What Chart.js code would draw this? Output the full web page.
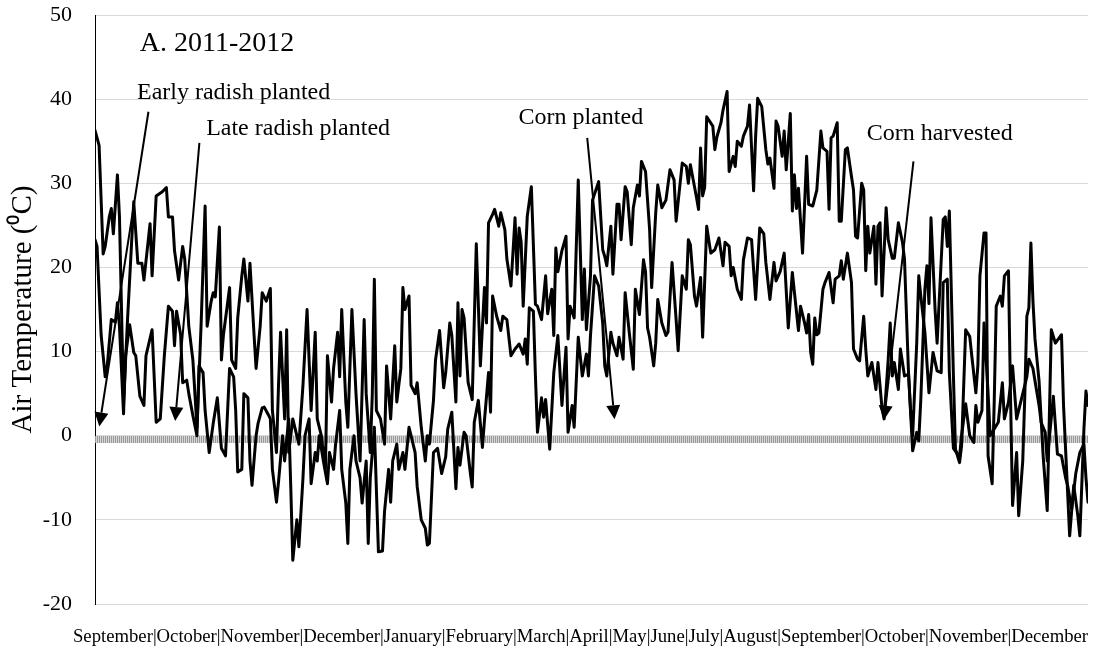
<!DOCTYPE html>
<html>
<head>
<meta charset="utf-8">
<title>Air Temperature 2011-2012</title>
<script src="https://cdn.jsdelivr.net/npm/chart.js@4.4.0/dist/chart.umd.min.js"></script>
<style>
    html, body { margin: 0; padding: 0; background: #ffffff; }
    #wrap { width: 1098px; height: 649px; }
</style>
</head>
<body>
<div id="wrap"><canvas id="tempChart" width="1098" height="649"></canvas></div>
<script>
// day 0 = 1 September 2011, day 487 = 31 December 2012
const monthLabels = [
    "September", "October", "November", "December", "January", "February",
    "March", "April", "May", "June", "July", "August",
    "September", "October", "November", "December"
];

const maxDays = [0,2,4,5,7,8,9,11,12,14,16,19,21,23,24,27,28,30,33,35,36,38,39,41,43,44,46,48,50,52,54,55,57,58,59,61,62,63,66,67,69,70,72,73,75,76,78,79,81,82,84,86,
    87,89,90,91,93,94,95,97,98,100,102,104,106,108,109,111,113,114,116,117,119,120,121,123,124,126,128,130,132,133,135,136,137,138,140,142,143,145,147,148,150,151,152,154,155,157,158,160,162,163,164,166,167,169,
    171,172,174,175,177,178,179,180,181,183,185,187,189,191,192,193,195,196,198,199,201,202,204,206,207,208,209,210,212,214,216,217,219,221,222,224,225,226,227,229,231,232,233,235,237,239,240,241,243,244,247,249,250,251,253,254,256,257,258,260,261,263,264,266,267,268,270,272,273,275,276,278,280,282,284,285,288,290,291,292,295,296,297,298,299,
    300,303,304,305,307,308,310,311,313,314,315,317,318,320,321,323,324,325,327,329,330,331,333,334,335,337,338,339,341,342,343,344,345,347,349,350,352,354,356,357,359,360,361,362,364,365,366,368,369,371,372,373,374,376,377,378,379,380,382,383,384,385,386,388,389,391,392,394,396,397,399,
    401,403,404,405,407,408,409,410,412,413,416,417,418,419,421,422,424,425,427,429,430,432,433,434,436,437,438,440,441,442,444,445,446,448,449,450,452,453,455,456,457,458,459,460,461,463,465,467,469,471,474,475,478,480,482,483,485,486,487];
const maxTemps = [36.3,34.5,21.6,22.5,26,27,24,31,26,4,14,27.8,20.5,20.5,18.5,25.2,19,28.5,29,29.5,26,26,22,18.5,22.5,21,13,9,1,13,27.3,13,16,17,16.5,24.8,9,12,17.6,9,8,14,19,21,16,20.5,12,8,13,17,16,17.5,
    3,-2,6,12.3,2,12.6,-2,2,1,-1,6,15,3,12.3,2,0,-4,9.5,4,8,12.3,7,15,4,1,15,5,-3,13.8,5,-2,5,18.6,3,2,-1,8.3,2,10.7,4,8,17.6,15,16.6,6,5,6.3,1,-3,0,-1,4.2,9,12.5,
    5.7,7.5,13.4,11.9,4,15.8,7.1,15,14,6.3,4.3,22.8,8.3,17.6,13.4,25.3,26.3,26.9,24.9,26.5,24.5,21,17.8,25.9,19.2,24.7,23,15.4,26.1,29.6,15.6,15.4,13.8,19,14.5,17.4,11.9,22.3,19.5,22,23.7,11.5,15.4,14,30.4,13.8,19.8,12.6,19,28,30.2,22.1,21.3,20.2,24.9,19.2,27.5,27.5,23.3,29.6,29,22.7,27.1,29.8,28.5,32.6,31.4,24.5,17.6,26.5,29.8,27.1,28,31.6,30.4,25.5,32.4,32,30,32.2,28.3,26.9,34.2,28.5,29.5,
    37.9,36.8,34,35.5,37.2,38.7,40.9,31.4,33.2,32,35,34.4,35.6,36.8,39.3,29.1,35.6,40.1,39.1,34,32.3,33,29.4,37.4,36.8,33.2,36.2,31.6,38.3,26.7,31,27,29.4,21.7,33.2,27.5,27.3,29.2,36.2,34.2,33.8,26.9,35.4,35.6,37.2,25.5,25.5,34,34.2,30.8,29.2,23.7,23.5,30,29.2,19.6,24.9,21.7,24.9,18,24.9,25.3,16.6,27.1,23.3,21.1,21.1,25.3,23,21,7.3,
    -1.8,0.4,-0.6,4.3,17.4,20.2,15.7,25.9,15,11,25.7,26,22.5,26.7,7.1,-1.6,-3.2,-1.2,12.6,11.8,9.5,5.1,8.4,19,24.1,24.1,-2.4,-5.7,4,15.4,16.6,15.4,19,19.6,4.7,-8.3,-2,-9.5,-3,4.7,14.2,15.2,22.9,16,11.5,6.5,-2.4,-8.9,12.6,11,12,3.6,-11.9,-5.9,-9.5,-11.9,0.8,5.3,3.6];

const minDays = [0,1,3,5,6,8,10,11,12,14,15,17,19,20,22,24,25,28,30,32,34,36,38,39,40,42,43,45,46,48,50,51,53,54,56,58,60,62,64,66,68,69,70,72,73,75,76,77,79,80,82,83,85,
    86,87,89,90,92,93,95,96,97,99,100,102,103,105,106,108,109,110,112,114,115,117,118,120,121,123,124,125,127,128,130,131,133,134,135,137,139,141,142,144,145,146,148,149,151,152,154,155,157,158,160,162,163,164,
    166,168,170,172,173,175,177,178,179,181,182,184,185,186,188,190,191,193,194,195,197,199,200,202,204,206,208,210,211,212,213,215,216,217,219,220,221,223,225,227,229,231,232,234,235,237,239,241,242,243,245,247,249,250,251,253,254,256,257,259,260,262,264,265,267,269,270,271,272,274,275,276,278,280,281,283,285,286,288,290,291,292,294,295,297,298,
    300,302,304,306,308,309,311,312,313,315,317,318,320,322,324,326,328,329,331,333,334,336,338,340,342,345,346,348,349,350,351,352,353,354,355,357,358,360,362,363,365,366,367,369,371,372,374,375,377,378,379,381,383,384,386,387,389,390,391,392,394,395,397,399,
    400,401,403,404,405,407,409,411,413,415,416,418,419,421,424,425,427,429,431,432,433,435,436,438,439,441,443,445,446,448,450,452,453,455,457,458,460,463,464,466,467,470,472,474,476,477,479,481,483,485,486,487];
const minTemps = [23.3,22.5,12,7,8.3,13.8,13.5,15.8,13,2.6,9.5,13.2,9.9,9.5,4.7,3.6,9.5,12.6,1.6,2,9.5,15.4,14.8,10.7,14.8,12,6.3,6.6,5,2.4,0,8.3,7.5,3,-2,1.5,4.5,-1.5,-2.4,8,7,3,-4.3,-4,5,4.5,-3,-5.9,0,1.5,3.3,3.4,2.5,
    2,-4,-7.9,-5.5,0,-3,2,-6,-14.8,-10,-13.2,-5,0,2,-5.7,-2,-3,0,-3,-5.7,-2,-4,-1,3,-4,-8,-12.8,-4,0,-3,-5,-8,-3,-12.8,-5,1,-13.8,-13.7,-9,-4,-7.9,-3,-1,-4,-2,-4,1,0,-2,-6,-10,-11,-13,-12.8,
    -2,-1.5,-4.5,-2.5,0.8,2.8,-6.3,-1.4,-3.5,0.4,0,-4.3,-6.1,1.6,4.2,-1.4,1.8,7.5,2.8,16.6,14.2,12.5,14.2,13.8,9.5,10.3,10.9,9.7,11.5,8.5,15.2,14.8,7.1,0.4,4.5,2.2,4.3,-1.6,7.5,11.9,3.6,10.5,0.4,3.6,1,11.7,7.1,9.7,7.1,11.9,19,17.8,13.4,8.3,7.1,12.3,11,9.5,11.7,9.1,17,12.3,7.9,17.4,14.4,20.9,19.5,12.8,11.7,8.3,11,16.2,13.4,11.9,12.3,20.6,13.8,10.1,19,17.4,23.3,22.7,16.6,15.4,18.8,11.7,
    24.9,21.7,22.1,23.5,20.2,23,22.5,19,20,17.4,16.2,20.9,23.5,23.3,16.2,24.7,24,20.6,16.2,20.6,18.4,19.5,21.7,12.8,19.4,12.5,15.4,13.4,12.2,14.4,9.9,8.5,14,12,12.2,17.4,18.2,19.4,15.8,18.6,19,20.8,18.6,21.7,18.2,10.3,9.1,8.9,14.2,10.3,7.1,8.7,5.5,8.7,3.2,2,9,13.4,7.1,8.7,5.5,10.3,7.1,7.3,
    3,0,11,19,16.6,12.3,5.1,9.9,7.7,7.5,18.2,18.6,7.5,-1.5,-2.5,0,3.8,0,-0.8,3.6,1.6,3,13.4,5.1,0,0.8,1.6,6.3,2,4,8.3,2,3,5,7,9.1,8,3.6,1.6,0.4,-3,4.7,-2.2,-2.4,-5,-5.9,-8.7,-4.5,-2,-1,-5,-7.9];

// hatched band drawn just under the zero gridline
const zeroBand = -0.45;
const bandDays = [0, 487];

const noteTexts = ["A. 2011-2012", "Early radish planted", "Late radish planted", "Corn planted", "Corn harvested"];
const noteDays = [22, 20.6, 54.5, 207.7, 378.5];
const noteTemps = [45.7, 40, 35.7, 37.1, 35.1];

const arrowFromDays = [26.2, 51.2, 241.4, 401.4];
const arrowFromTemps = [38.5, 34.8, 35.4, 32.6];
const arrowToDays = [2.1, 39.3, 254.8, 387];
const arrowToTemps = [1.1, 1.75, 1.95, 1.9];

const serif = '"Liberation Serif", "Times New Roman", serif';

function toPoints(days, temps) {
    return days.map((d, i) => ({ x: d, y: temps[i] }));
}

const notesPlugin = {
    id: 'plantingNotes',
    afterDatasetsDraw(chart) {
        const { ctx, scales: { x, y } } = chart;
        ctx.save();
        ctx.fillStyle = '#000';
        ctx.strokeStyle = '#000';
        ctx.textAlign = 'left';
        ctx.textBaseline = 'alphabetic';

        noteTexts.forEach((text, i) => {
            ctx.font = (i === 0 ? '28px ' : '24px ') + serif;
            ctx.fillText(text, x.getPixelForValue(noteDays[i]), y.getPixelForValue(noteTemps[i]));
        });

        // arrows with a filled triangle head
        arrowFromDays.forEach((day, i) => {
            const x1 = x.getPixelForValue(day);
            const y1 = y.getPixelForValue(arrowFromTemps[i]);
            const x2 = x.getPixelForValue(arrowToDays[i]);
            const y2 = y.getPixelForValue(arrowToTemps[i]);
            const ang = Math.atan2(y2 - y1, x2 - x1);
            const headLen = 14, headHalf = 7;
            const bx = x2 - headLen * Math.cos(ang);
            const by = y2 - headLen * Math.sin(ang);

            ctx.lineWidth = 2;
            ctx.beginPath();
            ctx.moveTo(x1, y1);
            ctx.lineTo(bx, by);
            ctx.stroke();

            ctx.beginPath();
            ctx.moveTo(x2, y2);
            ctx.lineTo(bx - headHalf * Math.sin(ang), by + headHalf * Math.cos(ang));
            ctx.lineTo(bx + headHalf * Math.sin(ang), by - headHalf * Math.cos(ang));
            ctx.closePath();
            ctx.fill();
        });

        // month strip under the plot, a bit left of the plot centre like the original
        ctx.font = '18.7px ' + serif;
        ctx.textAlign = 'center';
        ctx.textBaseline = 'middle';
        ctx.fillText(monthLabels.join('|'), (x.left + x.right) / 2 - 11, 637);
        ctx.restore();
    }
};

const ctx = document.getElementById('tempChart').getContext('2d');

new Chart(ctx, {
    type: 'line',
    data: {
        datasets: [
            {
                label: 'Daily maximum',
                data: toPoints(maxDays, maxTemps),
                borderColor: '#000000',
                borderWidth: 3,
                borderJoinStyle: 'round',
                borderCapStyle: 'round',
                pointRadius: 0,
                tension: 0,
                order: 1
            },
            {
                label: 'Daily minimum',
                data: toPoints(minDays, minTemps),
                borderColor: '#000000',
                borderWidth: 3,
                borderJoinStyle: 'round',
                borderCapStyle: 'round',
                pointRadius: 0,
                tension: 0,
                order: 1
            },
            {
                label: 'zero band',
                data: toPoints(bandDays, [zeroBand, zeroBand]),
                borderColor: '#d6d6d6',
                borderWidth: 7,
                pointRadius: 0,
                order: 3
            },
            {
                label: 'zero hatch',
                data: toPoints(bandDays, [zeroBand, zeroBand]),
                borderColor: '#9a9a9a',
                borderWidth: 7,
                borderDash: [1, 1],
                pointRadius: 0,
                order: 2
            }
        ]
    },
    options: {
        responsive: false,
        animation: false,
        devicePixelRatio: 1,
        layout: {
            padding: { top: 15, right: 10, left: 0, bottom: 0 }
        },
        plugins: {
            legend: { display: false },
            tooltip: { enabled: false }
        },
        scales: {
            x: {
                type: 'linear',
                min: 0,
                max: 487,
                ticks: { display: false },
                grid: { display: false },
                border: { display: false },
                afterFit: function(scale) {
                    scale.height = 45;
                }
            },
            y: {
                min: -20,
                max: 50,
                ticks: {
                    stepSize: 10,
                    color: '#000',
                    font: { family: serif, size: 22 },
                    padding: 23
                },
                grid: {
                    color: '#d9d9d9',
                    lineWidth: 1,
                    drawTicks: false
                },
                border: { display: true, color: '#000', width: 1 },
                title: {
                    display: true,
                    text: 'Air Temperature (\u2070C)',
                    color: '#000',
                    font: { family: serif, size: 29 },
                    padding: { top: 6, bottom: 0 }
                },
                afterFit: function(scale) {
                    scale.width = 95;
                    // let the layout padding alone decide where the plot starts
                    scale.paddingTop = 0;
                    scale.paddingBottom = 0;
                }
            }
        }
    },
    plugins: [notesPlugin]
});
</script>
</body>
</html>
